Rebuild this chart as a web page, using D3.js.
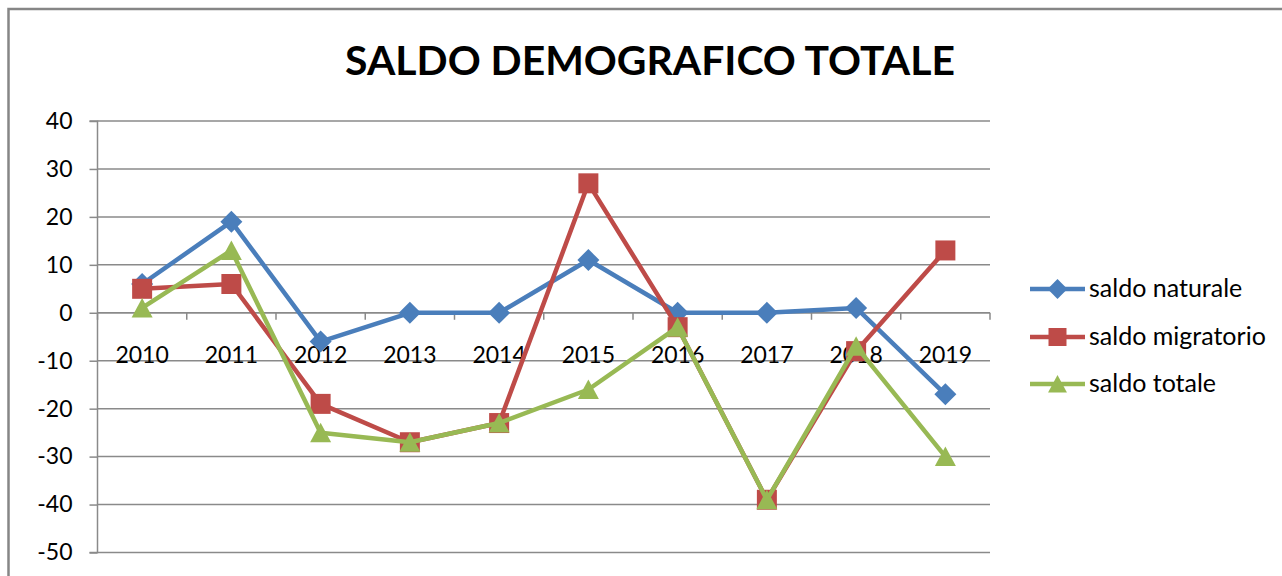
<!DOCTYPE html>
<html><head><meta charset="utf-8">
<script src="https://cdn.jsdelivr.net/npm/d3@7"></script>
<style>body{margin:0;background:#fff}svg{display:block}text{font-family:Lato,"Open Sans",sans-serif}</style>
</head><body>
<svg id="c" width="1282" height="576"></svg>
<script>
const categories = ["2010","2011","2012","2013","2014","2015","2016","2017","2018","2019"];
const saldoNaturale = [6,19,-6,0,0,11,0,0,1,-17];
const saldoMigratorio = [5,6,-19,-27,-23,27,-3,-39,-8,13];
const saldoTotale = [1,13,-25,-27,-23,-16,-3,-39,-7,-30];
const yTicks = [-50,-40,-30,-20,-10,0,10,20,30,40];
const seriesNames = ["saldo naturale","saldo migratorio","saldo totale"];
const title = "SALDO DEMOGRAFICO TOTALE";

const series = [
  {name: seriesNames[0], values: saldoNaturale, color: "#4A7EBB", sym: "diamond"},
  {name: seriesNames[1], values: saldoMigratorio, color: "#BE4B48", sym: "square"},
  {name: seriesNames[2], values: saldoTotale, color: "#98B954", sym: "triangle"}
];

const svg = d3.select("#c");
const L = 97.5, R = 990, T = 121, B = 552.5;
const x = d3.scalePoint().domain(categories).range([L, R]).padding(0.5);
const band = (R - L) / categories.length;
const y = d3.scaleLinear().domain([-50, 40]).range([B, T]);

// marker shapes
const symPath = {
  diamond: "M0,-11L11,0L0,11L-11,0Z",
  square: "M-10,-10H10V10H-10Z",
  triangle: "M0,-10L10.5,9.5H-10.5Z"
};

// outer border
svg.append("path").attr("d", `M8.5,576 V9 H1282`).attr("fill","none").attr("stroke","#868686").attr("stroke-width",2.5);

// title
const tt = svg.append("text").attr("x", 650).attr("y", 75).attr("text-anchor","middle")
  .attr("font-weight","bold").attr("font-size",44).attr("fill","#000").text(title);
{
  const w = tt.node().getComputedTextLength();
  tt.attr("font-size", 44 * 610 / w);
}

// gridlines
svg.append("g").selectAll("line").data(yTicks).join("line")
  .attr("x1", L).attr("x2", R).attr("y1", d => y(d)).attr("y2", d => y(d))
  .attr("stroke","#8a8a8a").attr("stroke-width",1.5);

// y axis
const yAxis = d3.axisLeft(y).tickValues(yTicks).tickSize(8).tickPadding(17).tickFormat(d => String(d));
const gy = svg.append("g").attr("transform",`translate(${L},0)`).call(yAxis);
gy.select(".domain").attr("stroke","#8a8a8a").attr("stroke-width",1.5).attr("d", `M-8,${T}H0V${B}H-8`);
gy.selectAll(".tick line").attr("stroke","#8a8a8a").attr("stroke-width",1.5);
gy.selectAll(".tick text").attr("font-size",23).attr("fill","#000").attr("font-family","Lato");

// x axis at 0
const y0 = y(0);
const gx = svg.append("g");
gx.append("line").attr("x1",L).attr("x2",R).attr("y1",y0).attr("y2",y0).attr("stroke","#8a8a8a").attr("stroke-width",1.5);
gx.selectAll("line.t").data(d3.range(categories.length + 1)).join("line").attr("class","t")
  .attr("x1", i => L + i * band).attr("x2", i => L + i * band)
  .attr("y1", y0).attr("y2", y0 + 7).attr("stroke","#8a8a8a").attr("stroke-width",1.5);
gx.selectAll("text").data(categories).join("text")
  .attr("x", d => x(d)).attr("y", y0 + 50).attr("text-anchor","middle")
  .attr("font-size",23).attr("fill","#000").text(d => d);

// series
const line = d3.line().x((d,i) => x(categories[i])).y(d => y(d));
series.forEach(s => {
  const g = svg.append("g");
  g.append("path").attr("d", line(s.values)).attr("fill","none").attr("stroke", s.color)
    .attr("stroke-width",4.5).attr("stroke-linejoin","round");
  g.selectAll("path.m").data(s.values).join("path").attr("class","m")
    .attr("transform",(d,i) => `translate(${x(categories[i])},${y(d)})`)
    .attr("d", symPath[s.sym])
    .attr("fill", s.color);
});

// legend
const ly = [289, 337, 384];
series.forEach((s, i) => {
  const g = svg.append("g").attr("transform",`translate(0,${ly[i]})`);
  g.append("line").attr("x1",1030).attr("x2",1085).attr("y1",0).attr("y2",0).attr("stroke",s.color).attr("stroke-width",4.5);
  g.append("path").attr("transform","translate(1057.5,0) scale(0.9)")
    .attr("d", symPath[s.sym]).attr("fill", s.color);
  g.append("text").attr("x",1089).attr("y",8).attr("font-size",25).attr("fill","#000").text(s.name);
});
</script>
</body></html>
